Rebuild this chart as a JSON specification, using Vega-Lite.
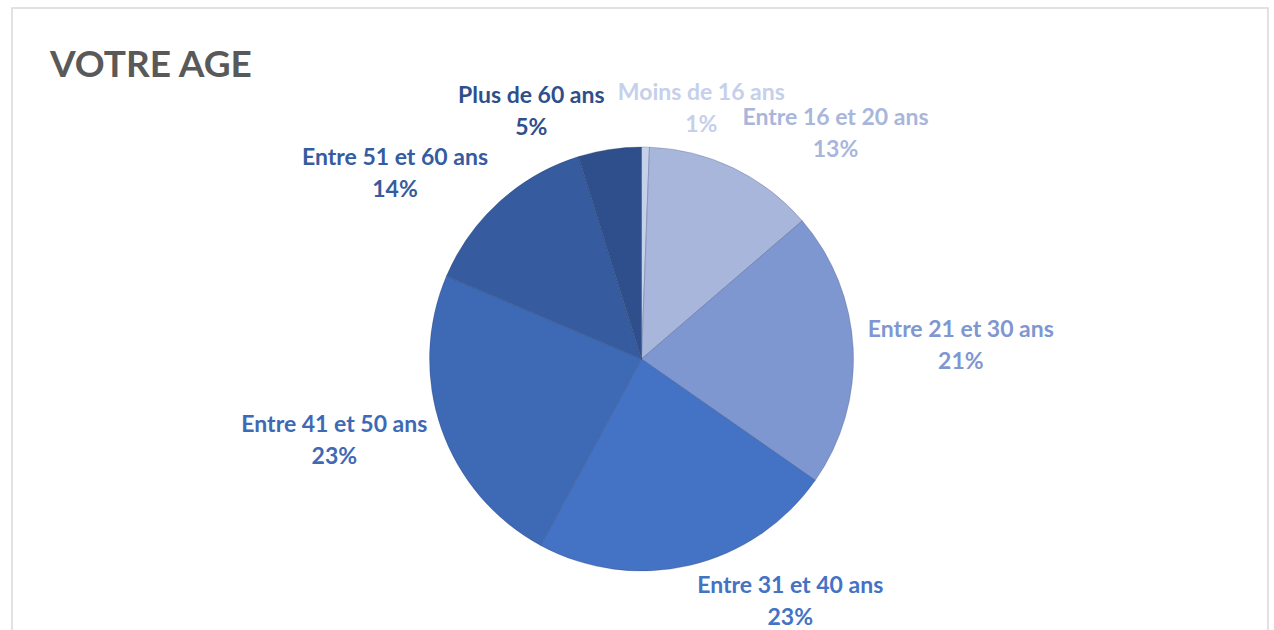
{
  "$schema": "https://vega.github.io/schema/vega-lite/v6.json",
  "width": 1274,
  "height": 630,
  "autosize": {"type": "fit", "contains": "padding"},
  "padding": {"left": 11, "top": 7, "right": 5, "bottom": -3},
  "background": "white",
  "title": {
    "text": "VOTRE AGE",
    "anchor": "start",
    "frame": "group",
    "font": "Lato",
    "fontSize": 37,
    "fontWeight": "bold",
    "color": "#595959",
    "baseline": "alphabetic",
    "offset": -69,
    "dx": 38,
    "dy": 38
  },
  "data": {
    "values": [
      {"i": 1, "age": "Moins de 16 ans", "pct": 0.6, "label": "Moins de 16 ans\n1%"},
      {"i": 2, "age": "Entre 16 et 20 ans", "pct": 13.1, "label": "Entre 16 et 20 ans\n13%"},
      {"i": 3, "age": "Entre 21 et 30 ans", "pct": 21.0, "label": "Entre 21 et 30 ans\n21%"},
      {"i": 4, "age": "Entre 31 et 40 ans", "pct": 23.2, "label": "Entre 31 et 40 ans\n23%"},
      {"i": 5, "age": "Entre 41 et 50 ans", "pct": 23.5, "label": "Entre 41 et 50 ans\n23%"},
      {"i": 6, "age": "Entre 51 et 60 ans", "pct": 13.8, "label": "Entre 51 et 60 ans\n14%"},
      {"i": 7, "age": "Plus de 60 ans", "pct": 4.8, "label": "Plus de 60 ans\n5%"}
    ]
  },
  "layer": [
    {
      "data": {"values": [{}]},
      "mark": {"type": "rect", "fill": null, "stroke": "#d9d9d9", "strokeWidth": 1.5},
      "encoding": {}
    },
    {
      "mark": {"type": "arc", "radius": 212, "xOffset": 1.5, "yOffset": 39, "stroke": "#1f3560", "strokeWidth": 0.5, "strokeOpacity": 0.5},
      "encoding": {
        "theta": {"field": "pct", "type": "quantitative", "stack": true},
        "order": {"field": "i", "type": "quantitative"},
        "color": {
          "field": "age",
          "type": "nominal",
          "legend": null,
          "scale": {
            "domain": ["Moins de 16 ans", "Entre 16 et 20 ans", "Entre 21 et 30 ans", "Entre 31 et 40 ans", "Entre 41 et 50 ans", "Entre 51 et 60 ans", "Plus de 60 ans"],
            "range": ["#c5d0ea", "#a8b6dc", "#7f97d0", "#4472c4", "#3d69b5", "#365c9f", "#2f4f8c"]
          }
        }
      }
    },
    {
      "mark": {
        "type": "text",
        "radius": 222,
        "xOffset": 1.5,
        "yOffset": 39,
        "font": "Lato",
        "fontSize": 23,
        "fontWeight": "bold",
        "lineBreak": "\n",
        "lineHeight": 32,
        "align": "center",
        "baseline": "middle",
        "dx": {"expr": "clamp(36 * sin(scale('theta', (datum.pct_start + datum.pct_end) / 2)), -1, 1) * (5.2 * length(datum.age) + 4)"},
        "dy": {"expr": "-28 * cos(scale('theta', (datum.pct_start + datum.pct_end) / 2)) - 16"}
      },
      "encoding": {
        "theta": {"field": "pct", "type": "quantitative", "stack": true},
        "order": {"field": "i", "type": "quantitative"},
        "color": {"field": "age", "type": "nominal", "legend": null},
        "text": {"field": "label"}
      }
    }
  ]
}
